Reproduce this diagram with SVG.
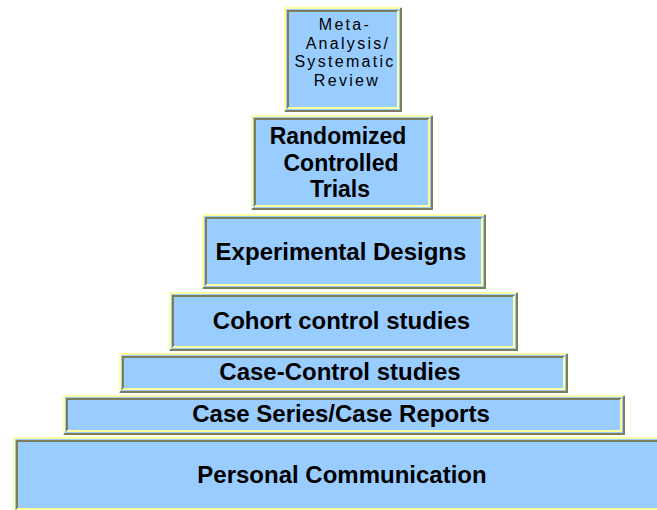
<svg xmlns="http://www.w3.org/2000/svg" width="657" height="510" viewBox="0 0 657 510">
<style>
  .box { fill: #99CCFF; }
  .hi { fill: none; stroke: #FFFFA0; stroke-width: 2; }
  .sh { fill: none; stroke: #7D7D5A; stroke-width: 2; }
  .t { font-family: "Liberation Sans", Arial, sans-serif; font-weight: bold; font-size: 24px; fill: #000; text-anchor: middle; }
  .t23 { font-size: 23px; }
  .m { font-family: "Liberation Sans", Arial, sans-serif; font-size: 16px; letter-spacing: 2.3px; fill: #000; text-anchor: middle; }
</style>
<rect width="657" height="510" fill="#FFFFFF"/>
<g id="meta">
  <rect class="box" x="284" y="7" width="118" height="105"/>
  <path class="hi" d="M285,111 V8 H401"/>
  <path class="sh" d="M285,111 H401 V8"/>
  <path class="sh" d="M288,108 V11 H398"/>
  <path class="hi" d="M288,108 H398 V11"/>
  <text class="m" x="345" y="30">Meta-</text>
  <text class="m" x="348" y="48.5">Analysis/</text>
  <text class="m" x="345" y="67">Systematic</text>
  <text class="m" x="347" y="85.5">Review</text>
</g>
<g id="rct">
  <rect class="box" x="251" y="115" width="182" height="95"/>
  <path class="hi" d="M252,209 V116 H432"/>
  <path class="sh" d="M252,209 H432 V116"/>
  <path class="sh" d="M255,206 V119 H429"/>
  <path class="hi" d="M255,206 H429 V119"/>
  <text class="t t23" x="338" y="144">Randomized</text>
  <text class="t t23" x="341" y="171">Controlled</text>
  <text class="t t23" x="340" y="197">Trials</text>
</g>
<g id="experimental">
  <rect class="box" x="202" y="214" width="284" height="75"/>
  <path class="hi" d="M203,288 V215 H485"/>
  <path class="sh" d="M203,288 H485 V215"/>
  <path class="sh" d="M206,285 V218 H482"/>
  <path class="hi" d="M206,285 H482 V218"/>
  <text class="t" x="341" y="260">Experimental Designs</text>
</g>
<g id="cohort">
  <rect class="box" x="169" y="292" width="349" height="59"/>
  <path class="hi" d="M170,350 V293 H517"/>
  <path class="sh" d="M170,350 H517 V293"/>
  <path class="sh" d="M173,347 V296 H514"/>
  <path class="hi" d="M173,347 H514 V296"/>
  <text class="t" x="341.5" y="329">Cohort control studies</text>
</g>
<g id="case-control">
  <rect class="box" x="119" y="353" width="449" height="40"/>
  <path class="hi" d="M120,392 V354 H567"/>
  <path class="sh" d="M120,392 H567 V354"/>
  <path class="sh" d="M123,389 V357 H564"/>
  <path class="hi" d="M123,389 H564 V357"/>
  <text class="t" x="340" y="380">Case-Control studies</text>
</g>
<g id="case-series">
  <rect class="box" x="63" y="395" width="562" height="40"/>
  <path class="hi" d="M64,434 V396 H624"/>
  <path class="sh" d="M64,434 H624 V396"/>
  <path class="sh" d="M67,431 V399 H621"/>
  <path class="hi" d="M67,431 H621 V399"/>
  <text class="t" x="341" y="422">Case Series/Case Reports</text>
</g>
<g id="personal">
  <rect class="box" x="13" y="437" width="660" height="76"/>
  <path class="hi" d="M14,512 V438 H672"/>
  <path class="sh" d="M14,512 H672 V438"/>
  <path class="sh" d="M17,509 V441 H669"/>
  <path class="hi" d="M17,509 H669 V441"/>
  <text class="t" x="342" y="483">Personal Communication</text>
</g>
<g id="connectors"/>
</svg>
